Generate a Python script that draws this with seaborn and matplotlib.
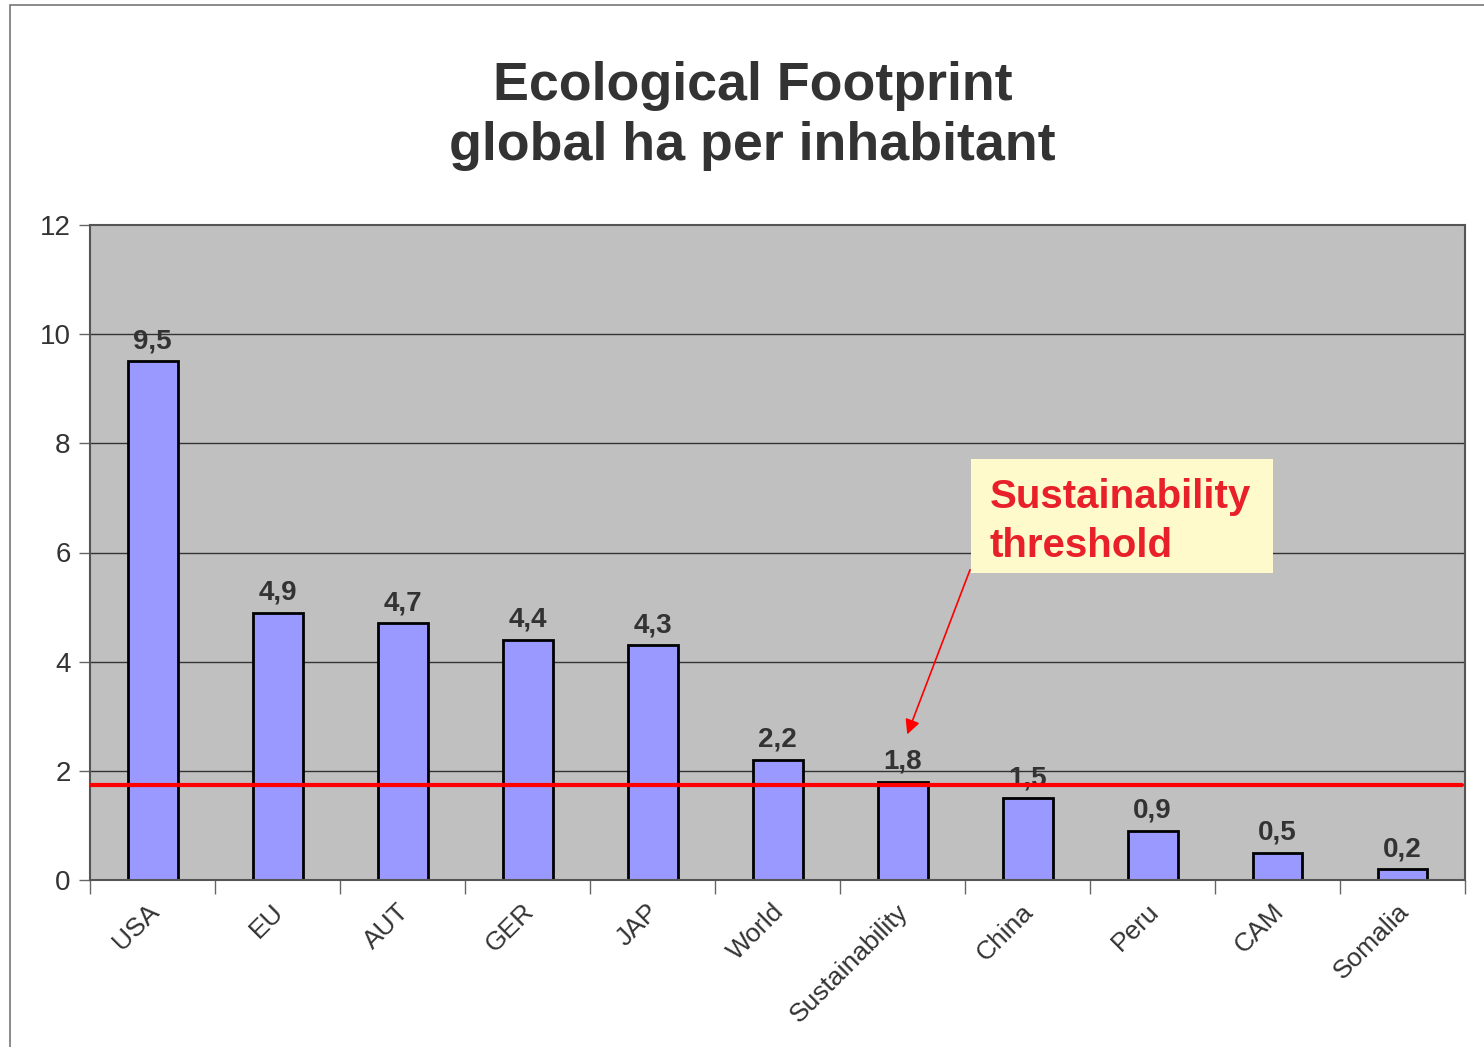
import matplotlib
matplotlib.use('Agg')
from matplotlib import pyplot as plt
from matplotlib.patches import Rectangle
from matplotlib.transforms import ScaledTranslation
import seaborn as sns
import pandas as pd

countries = ['USA', 'EU', 'AUT', 'GER', 'JAP', 'World', 'Sustainability',
             'China', 'Peru', 'CAM', 'Somalia']
footprint = [9.5, 4.9, 4.7, 4.4, 4.3, 2.2, 1.8, 1.5, 0.9, 0.5, 0.2]
threshold = 1.74
y_ticks = [0, 2, 4, 6, 8, 10, 12]

df = pd.DataFrame({'Country': countries, 'Footprint': footprint})

sns.set_style('white')
plt.rcParams['font.family'] = ['Liberation Sans', 'DejaVu Sans']

fig = plt.figure(figsize=(14.84, 10.47), dpi=100)
ax = fig.add_axes([90 / 1484, 1 - 880 / 1047, 1375 / 1484, 655 / 1047])
ax.set_facecolor('#C0C0C0')

# grid behind bars
for v in y_ticks[1:-1]:
    ax.axhline(v, color='#333333', lw=1, zorder=0.5)

sns.barplot(data=df, x='Country', y='Footprint', color='#9999FF',
            saturation=1, edgecolor='black', linewidth=2, width=0.4,
            ax=ax, zorder=2)

# value labels
for i, v in enumerate(footprint):
    ax.annotate(f'{v:.1f}'.replace('.', ','), (i, v), xytext=(0, 5),
                textcoords='offset points', ha='center', va='bottom',
                fontsize=20, fontweight='bold', color='#333333', zorder=3)

# threshold line
ax.axhline(threshold, xmin=-0.002, xmax=0.998, color='#FF0000', lw=3, zorder=4)

ax.set_xlim(-0.5, len(countries) - 0.5)
ax.set_ylim(0, 12)
ax.set_yticks(y_ticks)
ax.set_yticklabels([str(t) for t in y_ticks])
ax.set_xticks(range(len(countries)))
ax.set_xticklabels(countries, rotation=45, ha='right', va='top',
                   rotation_mode='anchor')
ax.set_xticks([i - 0.5 for i in range(len(countries) + 1)], minor=True)
ax.tick_params(axis='x', which='major', length=0, labelsize=19,
               labelcolor='#333333', pad=14)
ax.tick_params(axis='x', which='minor', length=10, width=1, color='#666666',
               direction='out', bottom=True)
ax.tick_params(axis='y', length=8, width=1, color='#666666', direction='out',
               left=True, labelsize=20, labelcolor='#333333', pad=6)
# nudge the rotated labels a little to the left
shift = ScaledTranslation(-6 / 100, 0, fig.dpi_scale_trans)
for lbl in ax.get_xticklabels():
    lbl.set_transform(lbl.get_transform() + shift)
ax.set_xlabel('')
ax.set_ylabel('')
for s in ax.spines.values():
    s.set_color('#555555')
    s.set_linewidth(1.5)

# annotation box and arrow
ax.add_patch(Rectangle((6.548, 5.62), 2.416, 2.09, facecolor='#FFFACC',
                       edgecolor='none', zorder=5))
ax.text(6.7, 6.57, 'Sustainability\nthreshold', color='#E8202A',
        fontsize=29, fontweight='bold', ha='left', va='center',
        linespacing=1.38, zorder=6)
ax.annotate('', xy=(6.03, 2.62), xytext=(6.548, 5.73),
            arrowprops=dict(arrowstyle='-|>', color='#FF0000', lw=1.2,
                            mutation_scale=22), zorder=6)

# title
fig.text(0.507, 0.889, 'Ecological Footprint\nglobal ha per inhabitant',
         ha='center', va='center', fontsize=38.7, fontweight='bold',
         color='#333333', linespacing=1.25)

# outer frame
fig.add_artist(Rectangle((10 / 1484, -0.05), 2, 1.05 - 5 / 1047,
                         transform=fig.transFigure, fill=False,
                         edgecolor='#777777', lw=1.2))

fig.savefig('out.png', dpi=100)
